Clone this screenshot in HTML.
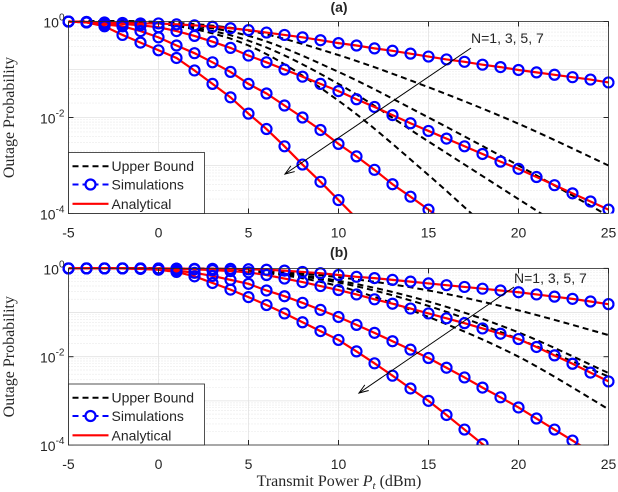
<!DOCTYPE html>
<html><head><meta charset="utf-8">
<style>
body{margin:0;background:#fff;}
svg{display:block;}
.tk{font-family:"Liberation Sans",sans-serif;font-size:14px;fill:#262626;}
.sf{font-family:"Liberation Serif",serif;fill:#262626;}
</style></head>
<body>
<svg id="chart" width="618" height="492" xmlns="http://www.w3.org/2000/svg"></svg>
<script>
// x values (dBm)
const xInt = [-5,-4,-3,-2,-1,0,1,2,3,4,5,6,7,8,9,10,11,12,13,14,15,16,17,18,19,20,21,22,23,24,25];
const xSparse = [-5,0,5,10,15,20,25];
// log10 outage probability, panel (a), simulations/analytical N=1,3,5,7
const aN1 = [0,-0.01,-0.02,-0.03,-0.04,-0.04,-0.06,-0.08,-0.11,-0.14,-0.18,-0.23,-0.28,-0.33,-0.39,-0.45,-0.5,-0.56,-0.61,-0.67,-0.73,-0.79,-0.84,-0.9,-0.95,-1.01,-1.06,-1.11,-1.16,-1.21,-1.27];
const aN3 = [0,-0.01,-0.03,-0.05,-0.08,-0.12,-0.2,-0.3,-0.42,-0.55,-0.71,-0.85,-1.0,-1.15,-1.3,-1.45,-1.62,-1.78,-1.95,-2.12,-2.28,-2.44,-2.6,-2.76,-2.92,-3.07,-3.24,-3.41,-3.58,-3.75,-3.92];
const aN5 = [0,-0.02,-0.06,-0.1,-0.2,-0.33,-0.5,-0.66,-0.85,-1.05,-1.3,-1.5,-1.75,-2.0,-2.26,-2.55,-2.81,-3.09,-3.39,-3.65,-3.92];
const aN7 = [0,-0.02,-0.1,-0.28,-0.44,-0.6,-0.76,-1.02,-1.3,-1.58,-1.92,-2.24,-2.6,-2.98,-3.34,-3.72];
// upper bounds panel (a) at xSparse
const aUB1 = [0,-0.01,-0.19,-0.7,-1.37,-2.13,-3.0];
const aUB2 = [0,-0.02,-0.3,-1.05,-2.0,-3.0,-4.05];
const aUB3 = [0,-0.03,-0.4,-1.3,-2.5,-3.7,-4.9];
const aUB4 = [0,-0.04,-0.5,-1.65,-3.2,-4.9,-6.6];
// panel (b)
const bN1 = [0,0,0,0,0,0,-0.005,-0.01,-0.01,-0.01,-0.02,-0.03,-0.05,-0.08,-0.11,-0.15,-0.19,-0.22,-0.26,-0.3,-0.34,-0.38,-0.42,-0.46,-0.5,-0.54,-0.59,-0.64,-0.69,-0.75,-0.81];
const bN3 = [0,0,0,0,0,-0.01,-0.01,-0.02,-0.04,-0.06,-0.09,-0.15,-0.23,-0.31,-0.4,-0.49,-0.59,-0.7,-0.8,-0.91,-1.02,-1.13,-1.24,-1.36,-1.48,-1.6,-1.78,-1.97,-2.16,-2.36,-2.56];
const bN5 = [0,0,0,0,-0.01,-0.02,-0.05,-0.1,-0.17,-0.26,-0.35,-0.5,-0.63,-0.78,-0.94,-1.1,-1.28,-1.46,-1.65,-1.84,-2.03,-2.25,-2.47,-2.7,-2.92,-3.15,-3.4,-3.65,-3.9];
const bN7 = [0,0,0,0,-0.01,-0.03,-0.08,-0.18,-0.33,-0.48,-0.65,-0.83,-1.02,-1.22,-1.42,-1.62,-1.88,-2.15,-2.43,-2.72,-3.0,-3.32,-3.65,-3.98];
const bUB1 = [0,0,-0.03,-0.2,-0.5,-0.95,-1.51];
const bUB2 = [0,0,-0.04,-0.28,-0.75,-1.45,-2.37];
const bUB3 = [0,0,-0.05,-0.32,-0.85,-1.6,-2.45];
const bUB4 = [0,0,-0.06,-0.4,-1.1,-2.0,-3.19];
const xTicks = [-5,0,5,10,15,20,25];
const yTickExp = [0,-2,-4];

const NS='http://www.w3.org/2000/svg';
const svg=document.getElementById('chart');
function el(tag,attrs,parent){const e=document.createElementNS(NS,tag);for(const k in attrs)e.setAttribute(k,attrs[k]);(parent||svg).appendChild(e);return e;}

function panel(id,top,bottom,sims,ubs,title,titleY,arrow,textY,legY){
  const L=68.5,R=608.5;
  const sx=v=>L+(v+5)/30*(R-L);
  const sy=v=>top+(-v)/4*(bottom-top);
  const g=el('g',{});
  
  
  el('rect',{x:L,y:top,width:R-L,height:bottom-top,fill:'#fff'},g);
  for(let d=0;d<4;d++)for(let m=2;m<=9;m++){
    const y=sy(-d-1+Math.log10(m));
    el('line',{x1:L,x2:R,y1:y,y2:y,stroke:'#dcdcdc','stroke-width':0.7,'stroke-dasharray':'1,2'},g);
  }
  for(let d=-3;d<0;d++){const y=sy(d);el('line',{x1:L,x2:R,y1:y,y2:y,stroke:'#e2e2e2','stroke-width':0.8},g);}
  xTicks.forEach(t=>{const x=sx(t);el('line',{x1:x,x2:x,y1:top,y2:bottom,stroke:'#e2e2e2','stroke-width':0.8},g);});
  const clip=el('clipPath',{id:'clip'+id},g);
  el('rect',{x:L-6,y:top-6,width:R-L+12,height:bottom-top+6},clip);
  const pg=el('g',{'clip-path':'url(#clip'+id+')'},g);
  const clip2=el('clipPath',{id:'clipl'+id},g);
  el('rect',{x:L,y:top-6,width:R-L+6,height:bottom-top+6},clip2);
  const lg2=el('g',{'clip-path':'url(#clipl'+id+')'},pg);
  ubs.forEach((arr,i)=>{
    const p=arr.map((v,j)=>[sx(xSparse[j]),sy(v)]);
    let d='M'+p[0][0]+','+p[0][1];
    for(let j=0;j<p.length-1;j++){
      const p0=p[Math.max(j-1,0)],p1=p[j],p2=p[j+1],p3=p[Math.min(j+2,p.length-1)];
      d+=' C'+(p1[0]+(p2[0]-p0[0])/6)+','+(p1[1]+(p2[1]-p0[1])/6)+' '+(p2[0]-(p3[0]-p1[0])/6)+','+(p2[1]-(p3[1]-p1[1])/6)+' '+p2[0]+','+p2[1];
    }
    const e=el('path',{d:d,fill:'none',stroke:'#000','stroke-width':2,'stroke-dasharray':'6,4'},lg2);
    
    
  });
  sims.forEach((arr,i)=>{
    const pts=arr.map((v,j)=>[sx(xInt[j]),sy(v)]);
    const n=arr.length;
    if(n<xInt.length){const s=arr[n-1]-arr[n-2];pts.push([sx(xInt[n]),sy(arr[n-1]+s)]);}
    const line=el('polyline',{points:pts.map(p=>p.join(',')).join(' '),fill:'none',stroke:'#ff0000','stroke-width':2.2},lg2);
    
    
    arr.forEach((v,j)=>{
      const c=el('circle',{cx:sx(xInt[j]),cy:sy(v),r:5,fill:'none',stroke:'#0000ff','stroke-width':2.2},pg);
      
      
    });
  });
  el('rect',{x:L,y:top,width:R-L,height:bottom-top,fill:'none',stroke:'#262626','stroke-width':0.8},g);
  xTicks.forEach(t=>{const x=sx(t);
    el('line',{x1:x,x2:x,y1:bottom,y2:bottom-5,stroke:'#262626'},g);
    el('line',{x1:x,x2:x,y1:top,y2:top+5,stroke:'#262626'},g);
    const tx=el('text',{x:x,y:bottom+24,'text-anchor':'middle',class:'tk'},g);tx.textContent=t;
    
  });
  yTickExp.forEach(e=>{const y=sy(e);
    el('line',{x1:L,x2:L+5,y1:y,y2:y,stroke:'#262626'},g);
    el('line',{x1:R,x2:R-5,y1:y,y2:y,stroke:'#262626'},g);
    const tx=el('text',{x:L-4,y:y+6,'text-anchor':'end',class:'tk'},g);
    tx.innerHTML='10<tspan dy="-7" font-size="10">'+e+'</tspan>';
    
  });
  const tt=el('text',{x:339,y:titleY,'text-anchor':'middle',class:'tk','font-weight':'bold'},g);tt.textContent=title;
  
  const yl=el('text',{transform:'translate(14,'+((top+bottom)/2)+') rotate(-90)','text-anchor':'middle',class:'sf','font-size':'16'},g);yl.textContent='Outage Probability';
  
  const ar=el('g',{},g);
  el('line',{x1:arrow[0],y1:arrow[1],x2:arrow[2],y2:arrow[3],stroke:'#000','stroke-width':1},ar);
  const ang=Math.atan2(arrow[3]-arrow[1],arrow[2]-arrow[0]);
  const hx=arrow[2],hy=arrow[3];
  const a1=[hx-10*Math.cos(ang-0.35),hy-10*Math.sin(ang-0.35)],a2=[hx-10*Math.cos(ang+0.35),hy-10*Math.sin(ang+0.35)];
  el('polyline',{points:a1.join(',')+' '+hx+','+hy+' '+a2.join(','),fill:'none',stroke:'#000','stroke-width':1},ar);
  const nt=el('text',{x:arrow[0],y:textY,class:'tk',fill:'#000'},g);nt.textContent='N=1, 3, 5, 7';
  
  const lg=el('g',{},g);
  el('rect',{x:L,y:legY,width:136,height:bottom-legY,fill:'#fff',stroke:'#262626','stroke-width':0.8},lg);
  const names=['Upper Bound','Simulations','Analytical'];
  const yy=[legY+13.7,legY+32,legY+51.3];
  names.forEach((n,i)=>{
    const y=yy[i];
    if(i==0)el('line',{x1:L+4,x2:L+40,y1:y,y2:y,stroke:'#000','stroke-width':2,'stroke-dasharray':'6,4'},lg);
    if(i==1){el('line',{x1:L+4,x2:L+40,y1:y,y2:y,stroke:'#0000ff','stroke-width':2,'stroke-dasharray':'6,4'},lg);el('circle',{cx:L+22,cy:y,r:5,fill:'#fff',stroke:'#0000ff','stroke-width':2.2},lg);}
    if(i==2)el('line',{x1:L+4,x2:L+40,y1:y,y2:y,stroke:'#ff0000','stroke-width':2.2},lg);
    const t=el('text',{x:L+43,y:y+5,class:'tk',fill:'#000'},lg);t.textContent=n;
    
  });
}
panel('a',21.5,213.5,[aN1,aN3,aN5,aN7],[aUB1,aUB2,aUB3,aUB4],'(a)',12,[471,48,285,174],43,152.5);
panel('b',268.4,445,[bN1,bN3,bN5,bN7],[bUB1,bUB2,bUB3,bUB4],'(b)',257,[514,287,359,393],283,384);
const xl=el('text',{x:339,y:486,'text-anchor':'middle',class:'sf','font-size':'16'});
xl.innerHTML='Transmit Power <tspan font-style="italic">P</tspan><tspan font-style="italic" font-size="11" dy="3">t</tspan><tspan dy="-3"> (dBm)</tspan>';


</script>
</body></html>
